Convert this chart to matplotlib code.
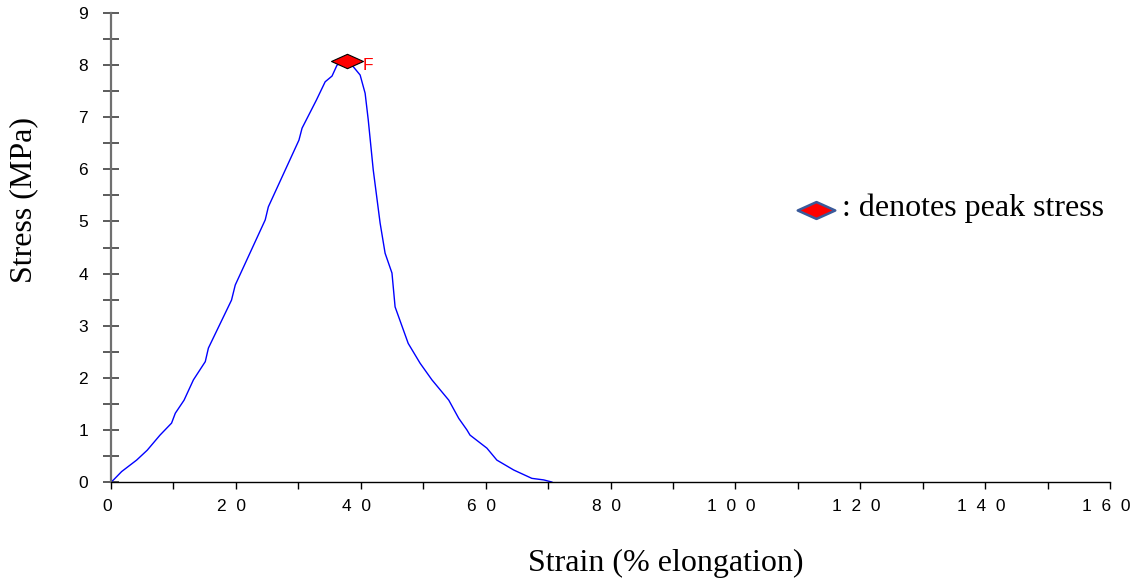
import matplotlib
matplotlib.use("Agg")
import matplotlib.pyplot as plt
from matplotlib.path import Path
from matplotlib.ticker import MultipleLocator, FixedLocator, FixedFormatter
import matplotlib.transforms as mtrans

# Data
strain = [0.0, 0.4, 1.7, 4.1, 5.8, 7.85, 9.7, 10.3, 11.7, 13.2, 15.1, 15.6, 19.3, 19.9,
          24.7, 25.2, 30.1, 30.6, 32.9, 34.3, 35.4, 36.2, 37.0, 37.8, 38.8, 39.9, 40.7,
          41.2, 42.0, 43.1, 43.9, 45.0, 45.5, 47.6, 49.5, 51.4, 54.1, 55.7, 57.0, 57.5,
          60.2, 61.8, 64.5, 67.4, 69.3, 70.6]
stress = [0.0, 0.04, 0.2, 0.42, 0.61, 0.9, 1.13, 1.32, 1.57, 1.96, 2.31, 2.57, 3.49, 3.78,
          5.03, 5.28, 6.56, 6.79, 7.33, 7.68, 7.79, 8.0, 8.05, 8.07, 7.97, 7.81, 7.46,
          6.95, 5.99, 4.97, 4.39, 4.01, 3.36, 2.66, 2.28, 1.96, 1.57, 1.22, 1.0, 0.9,
          0.65, 0.42, 0.23, 0.07, 0.04, 0.0]
peak_strain = 37.8
peak_stress = 8.07
peak_label = "F"
x_tick_values = [0, 20, 40, 60, 80, 100, 120, 140, 160]
x_tick_labels = ["0", "2  0", "4  0", "6  0", "8  0", "1  0  0", "1  2  0", "1  4  0", "1  6  0"]
y_tick_values = [0, 1, 2, 3, 4, 5, 6, 7, 8, 9]
legend_text = ": denotes peak stress"
x_label = "Strain (% elongation)"
y_label = "Stress (MPa)"

W, H = 1140, 581
fig = plt.figure(figsize=(W / 100, H / 100), dpi=100)
ax = fig.add_axes([111 / W, 1 - 482 / H, (1110 - 111) / W, (482 - 13) / H])

ax.plot(strain, stress, color="#0000ff", lw=1.0, zorder=2)

diamond = Path([(-1, 0), (0, 0.45), (1, 0), (0, -0.45), (-1, 0)],
               [Path.MOVETO, Path.LINETO, Path.LINETO, Path.LINETO, Path.CLOSEPOLY])
ax.plot([peak_strain], [peak_stress], marker=diamond, markersize=23,
        markerfacecolor="#ff0000", markeredgecolor="black", markeredgewidth=0.8,
        linestyle="none", zorder=3, clip_on=False)
ax.annotate(peak_label, (peak_strain, peak_stress), xytext=(11, -3),
            textcoords="offset points", color="#ff0000", fontsize=12.5,
            family="Liberation Sans", va="center", ha="left")

ax.set_xlim(0, 160)
ax.set_ylim(0, 9)
for s in ["top", "right"]:
    ax.spines[s].set_visible(False)
ax.spines["left"].set_color("#707070")
ax.spines["left"].set_linewidth(1.6)
ax.spines["bottom"].set_color("black")
ax.spines["bottom"].set_linewidth(1.0)

ax.xaxis.set_major_locator(FixedLocator(x_tick_values))
ax.xaxis.set_major_formatter(FixedFormatter(x_tick_labels))
ax.xaxis.set_minor_locator(MultipleLocator(10))
ax.yaxis.set_major_locator(FixedLocator(y_tick_values))
ax.yaxis.set_minor_locator(MultipleLocator(0.5))

ax.tick_params(axis="y", which="both", direction="inout", length=11, width=1.2,
               color="#404040", pad=11, labelsize=12.5)
ax.tick_params(axis="x", which="both", direction="out", length=5, width=1.0,
               color="black", pad=7, labelsize=12.5)
for lab in ax.get_xticklabels() + ax.get_yticklabels():
    lab.set_family("Liberation Sans")
offset = mtrans.ScaledTranslation(-4 / 100, 0, fig.dpi_scale_trans)
for lab in ax.get_xticklabels():
    lab.set_transform(lab.get_transform() + offset)

fig.text(666 / W, 1 - 563 / H, x_label, ha="center", va="center",
         family="Liberation Serif", fontsize=23)
fig.text(24 / W, 1 - 200 / H, y_label, ha="center", va="center", rotation=90,
         family="Liberation Serif", fontsize=23)

# legend-like note
fig.lines.append(plt.Line2D([816 / W], [1 - 210 / H], transform=fig.transFigure,
                            marker=diamond, markersize=27, markerfacecolor="#ff0000",
                            markeredgecolor="#3a5a9a", markeredgewidth=1.8,
                            linestyle="none"))
fig.text(842 / W, 1 - 208 / H, legend_text, ha="left", va="center",
         family="Liberation Serif", fontsize=23)

fig.savefig("out.png", dpi=100)
